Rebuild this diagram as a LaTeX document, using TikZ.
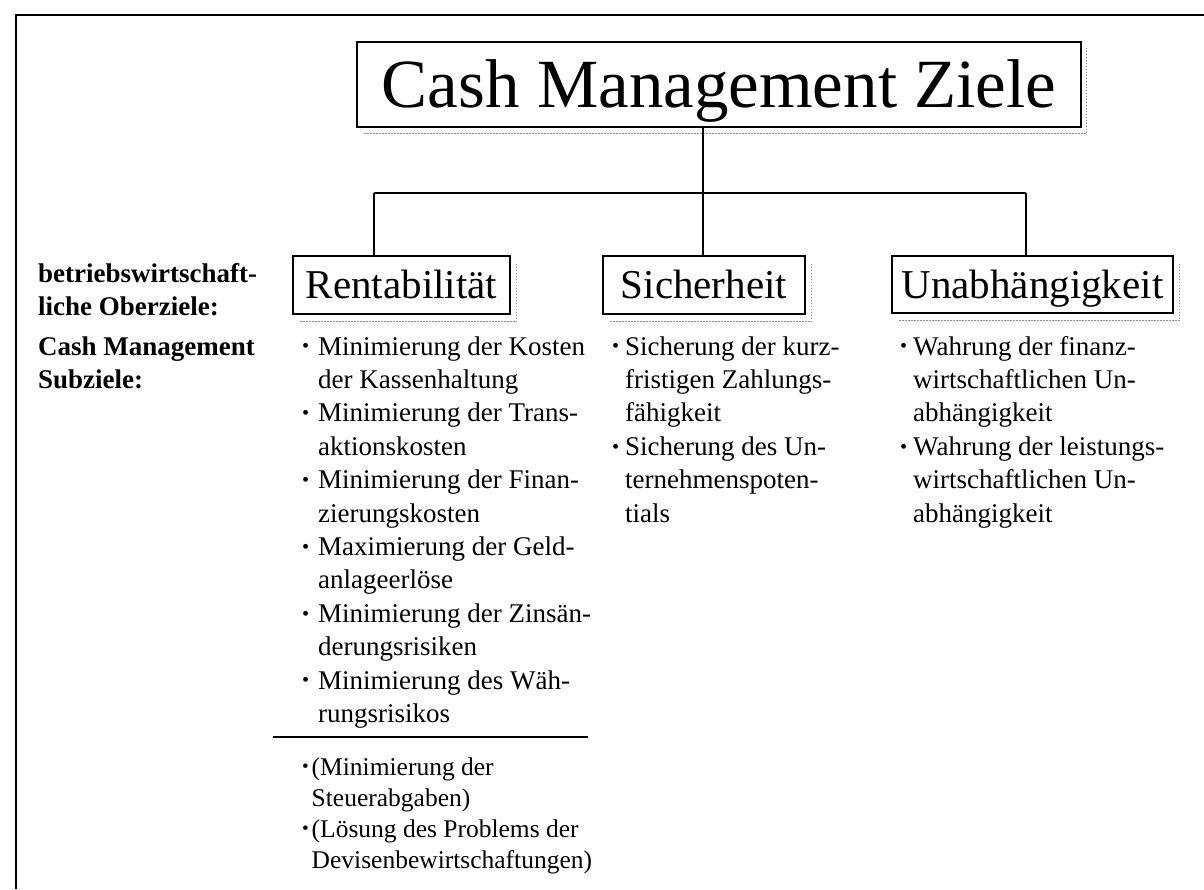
\documentclass[tikz,border=0pt]{standalone}
\usepackage{fontspec}
\setmainfont{Liberation Serif}
\usetikzlibrary{calc}
\newcommand{\dotb}{\raisebox{0.08em}{\scalebox{0.75}{•}}}
\newcommand{\bul}{\makebox[16pt][l]{\dotb}}
\newcommand{\ind}{\hspace*{16pt}}
\newcommand{\bulb}{\makebox[13pt][l]{\dotb}}
\newcommand{\indb}{\hspace*{13pt}}
\newcommand{\bulc}{\makebox[9.5pt][l]{\dotb}}
\newcommand{\indc}{\hspace*{9.5pt}}
\begin{document}
\begin{tikzpicture}[x=1pt,y=-1pt,
  box/.style={draw, line width=1.3pt, inner sep=0pt, align=center},
  link/.style={line width=1.3pt},
  shade/.style={draw=black!45, line width=1.2pt, dash pattern=on 1.2pt off 1.8pt},
  frameline/.style={line width=1.6pt},
  coltext/.style={anchor=base west, inner sep=0pt},
  bigfont/.style={font=\fontsize{69}{69}\selectfont},
  midfont/.style={font=\fontsize{41}{41}\selectfont},
  colfont/.style={font=\fontsize{27}{33.4}\selectfont},
  labfont/.style={font=\bfseries\fontsize{27}{33}\selectfont},
  extfont/.style={font=\fontsize{25.5}{31}\selectfont}
]
\useasboundingbox (0,0) rectangle (1204,889);

% outer frame
\coordinate (fa) at (1204,15);
\coordinate (fb) at (16,15);
\coordinate (fc) at (16,889);
\draw[frameline] (fa) -- (fb) -- (fc);

% boxes
\node[box, bigfont, minimum width=724pt, minimum height=85pt, text height=45.5pt, text depth=0pt] (title) at (719,84.5) {Cash Management Ziele};
\node[box, midfont, minimum width=217pt, minimum height=58pt, text height=27pt, text depth=0pt] (rent) at (401.5,285) {Rentabilität};
\node[box, midfont, minimum width=202pt, minimum height=58pt, text height=27pt, text depth=0pt] (sich) at (704,285) {Sicherheit};
\node[box, midfont, minimum width=281pt, minimum height=57pt, text height=27pt, text depth=0pt] (unab) at (1032.5,284.5) {Unabhängigkeit};

% shadows
\draw[shade] ($(title.south west)+(8,6)$) -- ($(title.south east)+(5,6)$) -- ($(title.north east)+(5,6)$);
\draw[shade] ($(rent.south west)+(8,7)$) -- ($(rent.south east)+(6,7)$) -- ($(rent.north east)+(6,7)$);
\draw[shade] ($(sich.south west)+(8,7)$) -- ($(sich.south east)+(6,7)$) -- ($(sich.north east)+(6,7)$);
\draw[shade] ($(unab.south west)+(8,7)$) -- ($(unab.south east)+(6,7)$) -- ($(unab.north east)+(6,7)$);

% connectors
\coordinate (j) at (703,193);
\coordinate (jl) at (374,193);
\coordinate (jr) at (1026,193);
\draw[link] (title.south -| j) -- (j);
\draw[link] (jl) -- (jr);
\draw[link] (jl) -- (jl |- rent.north);
\draw[link] (j) -- (j |- sich.north);
\draw[link] (jr) -- (jr |- unab.north);

% left labels
\node[coltext, labfont] (labA) at (38,282) {\parbox[t]{250pt}{\raggedright betriebswirtschaft-\\liche Oberziele:}};
\node[coltext, labfont] (labB) at (38,355) {\parbox[t]{250pt}{\raggedright Cash Management\\Subziele:}};

% columns
\node[coltext, colfont] (rentL) at (302,355) {\parbox[t]{300pt}{\raggedright
\bul Minimierung der Kosten\\
\ind der Kassenhaltung\\
\bul Minimierung der Trans-\\
\ind aktionskosten\\
\bul Minimierung der Finan-\\
\ind zierungskosten\\
\bul Maximierung der Geld-\\
\ind anlageerlöse\\
\bul Minimierung der Zinsän-\\
\ind derungsrisiken\\
\bul Minimierung des Wäh-\\
\ind rungsrisikos}};

\node[coltext, colfont] (sichL) at (612,355) {\parbox[t]{280pt}{\raggedright
\bulb Sicherung der kurz-\\
\indb fristigen Zahlungs-\\
\indb fähigkeit\\
\bulb Sicherung des Un-\\
\indb ternehmenspoten-\\
\indb tials}};

\node[coltext, colfont] (unabL) at (900,355) {\parbox[t]{290pt}{\raggedright
\bulb Wahrung der finanz-\\
\indb wirtschaftlichen Un-\\
\indb abhängigkeit\\
\bulb Wahrung der leistungs-\\
\indb wirtschaftlichen Un-\\
\indb abhängigkeit}};

% rule and extra goals
\coordinate (ra) at (273,737);
\coordinate (rb) at (588,737);
\draw[link] (ra) -- (rb);

\node[coltext, extfont] (extL) at (302,775) {\parbox[t]{320pt}{\raggedright
\bulc (Minimierung der\\
\indc Steuerabgaben)\\
\bulc (Lösung des Problems der\\
\indc Devisenbewirtschaftungen)}};
\end{tikzpicture}
\end{document}
